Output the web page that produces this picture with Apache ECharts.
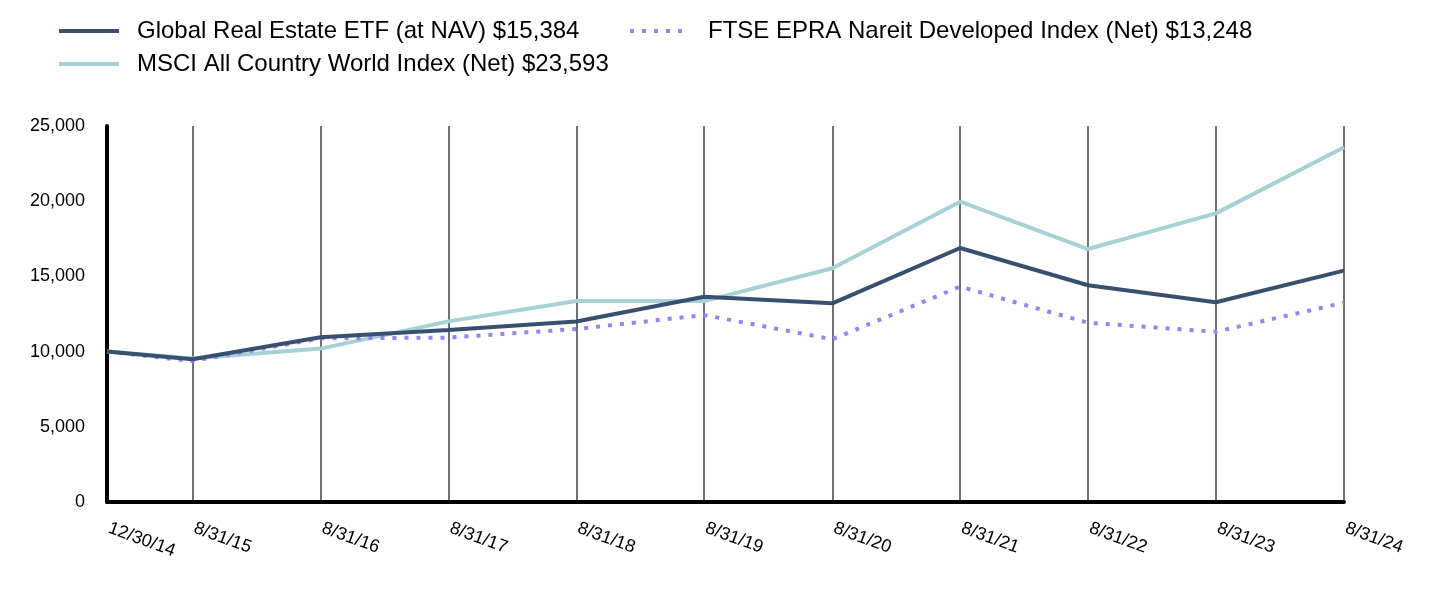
<!DOCTYPE html>
<html>
<head>
<meta charset="utf-8">
<script src="https://cdn.jsdelivr.net/npm/echarts@6/dist/echarts.min.js"></script>
<style>
html,body{margin:0;padding:0;background:#fff;}
#c{width:1432px;height:596px;}
</style>
</head>
<body>
<div id="c"></div>
<script>
// ---- data ----
const dates = ['2014-12-30','2015-08-31','2016-08-31','2017-08-31','2018-08-31','2019-08-31','2020-08-31','2021-08-31','2022-08-31','2023-08-31','2024-08-31'];
const tickLabels = ['12/30/14','8/31/15','8/31/16','8/31/17','8/31/18','8/31/19','8/31/20','8/31/21','8/31/22','8/31/23','8/31/24'];
const seriesNames = [
  'Global Real Estate ETF (at NAV) $15,384',
  'MSCI All Country World Index (Net) $23,593',
  'FTSE EPRA Nareit Developed Index (Net) $13,248'
];
const globalRealEstate = [10000, 9490, 10950, 11440, 12000, 13650, 13210, 16890, 14410, 13280, 15384];
const msciAcwi = [10000, 9540, 10200, 12010, 13360, 13360, 15540, 19970, 16820, 19190, 23593];
const ftseEpra = [10000, 9370, 10880, 10930, 11500, 12430, 10820, 14320, 11920, 11320, 13248];
const yMin = 0, yMax = 25000, yStep = 5000;

// ---- build: x = days elapsed since the first date ----
function toDay(d){ const p = d.split('-'); return Date.UTC(+p[0], +p[1]-1, +p[2]) / 86400000; }
const day0 = toDay(dates[0]);
const xs = dates.map(d => toDay(d) - day0);
const pair = arr => xs.map((x,i) => [x, arr[i]]);

const colors = { global: '#38506f', msci: '#a6d2d6', ftse: '#9683f8' };
const font = '"Liberation Sans", Arial, sans-serif';
const hiddenSymbol = { color: 'transparent', opacity: 0, borderWidth: 0 };
const legendText = { fontSize: 24, color: '#000', fontFamily: font, lineHeight: 24, padding: [0,0,0,13] };

const chart = echarts.init(document.getElementById('c'), null, {renderer: 'canvas'});
chart.setOption({
  animation: false,
  backgroundColor: '#fff',
  textStyle: { fontFamily: font },
  grid: { left: 107, right: 88, top: 126, bottom: 94, containLabel: false },
  legend: [
    {
      left: 52, top: 14, orient: 'vertical', itemWidth: 60, itemHeight: 14, itemGap: 9,
      textStyle: legendText,
      data: [
        { name: seriesNames[0], lineStyle: { width: 4, color: colors.global, type: 'solid' }, itemStyle: hiddenSymbol },
        { name: seriesNames[1], lineStyle: { width: 4, color: colors.msci, type: 'solid' }, itemStyle: hiddenSymbol }
      ]
    },
    {
      left: 623, top: 14, orient: 'vertical', itemWidth: 60, itemHeight: 14,
      textStyle: legendText,
      data: [
        { name: seriesNames[2], lineStyle: { width: 4, color: colors.ftse, type: [4, 8] }, itemStyle: hiddenSymbol }
      ]
    }
  ],
  xAxis: {
    type: 'value',
    min: xs[0],
    max: xs[xs.length - 1],
    axisLine: { show: true, lineStyle: { color: '#000', width: 4 } },
    axisTick: { show: false, customValues: xs },
    axisLabel: {
      customValues: xs,
      rotate: -20,
      margin: 25,
      fontSize: 18,
      color: '#000',
      fontFamily: font,
      padding: [0, 0, 0, 2],
      formatter: function (v) {
        let best = 0, bd = Infinity;
        xs.forEach((t, i) => { const d = Math.abs(t - v); if (d < bd) { bd = d; best = i; } });
        return tickLabels[best];
      }
    },
    splitLine: { show: true, lineStyle: { color: '#707070', width: 2 } }
  },
  yAxis: {
    type: 'value',
    min: yMin, max: yMax, interval: yStep,
    axisLine: { show: true, lineStyle: { color: '#000', width: 4 } },
    axisTick: { show: false },
    splitLine: { show: false },
    axisLabel: {
      margin: 22, fontSize: 18, color: '#000', fontFamily: font,
      formatter: v => v.toLocaleString('en-US')
    }
  },
  series: [
    { name: seriesNames[1], type: 'line', symbol: 'none', data: pair(msciAcwi),
      lineStyle: { color: colors.msci, width: 4 }, itemStyle: { color: colors.msci }, z: 2 },
    { name: seriesNames[2], type: 'line', symbol: 'none', data: pair(ftseEpra),
      lineStyle: { color: colors.ftse, width: 4, type: [4, 8] }, itemStyle: { color: colors.ftse }, z: 3 },
    { name: seriesNames[0], type: 'line', symbol: 'none', data: pair(globalRealEstate),
      lineStyle: { color: colors.global, width: 4 }, itemStyle: { color: colors.global }, z: 4 }
  ]
});
</script>
</body>
</html>
